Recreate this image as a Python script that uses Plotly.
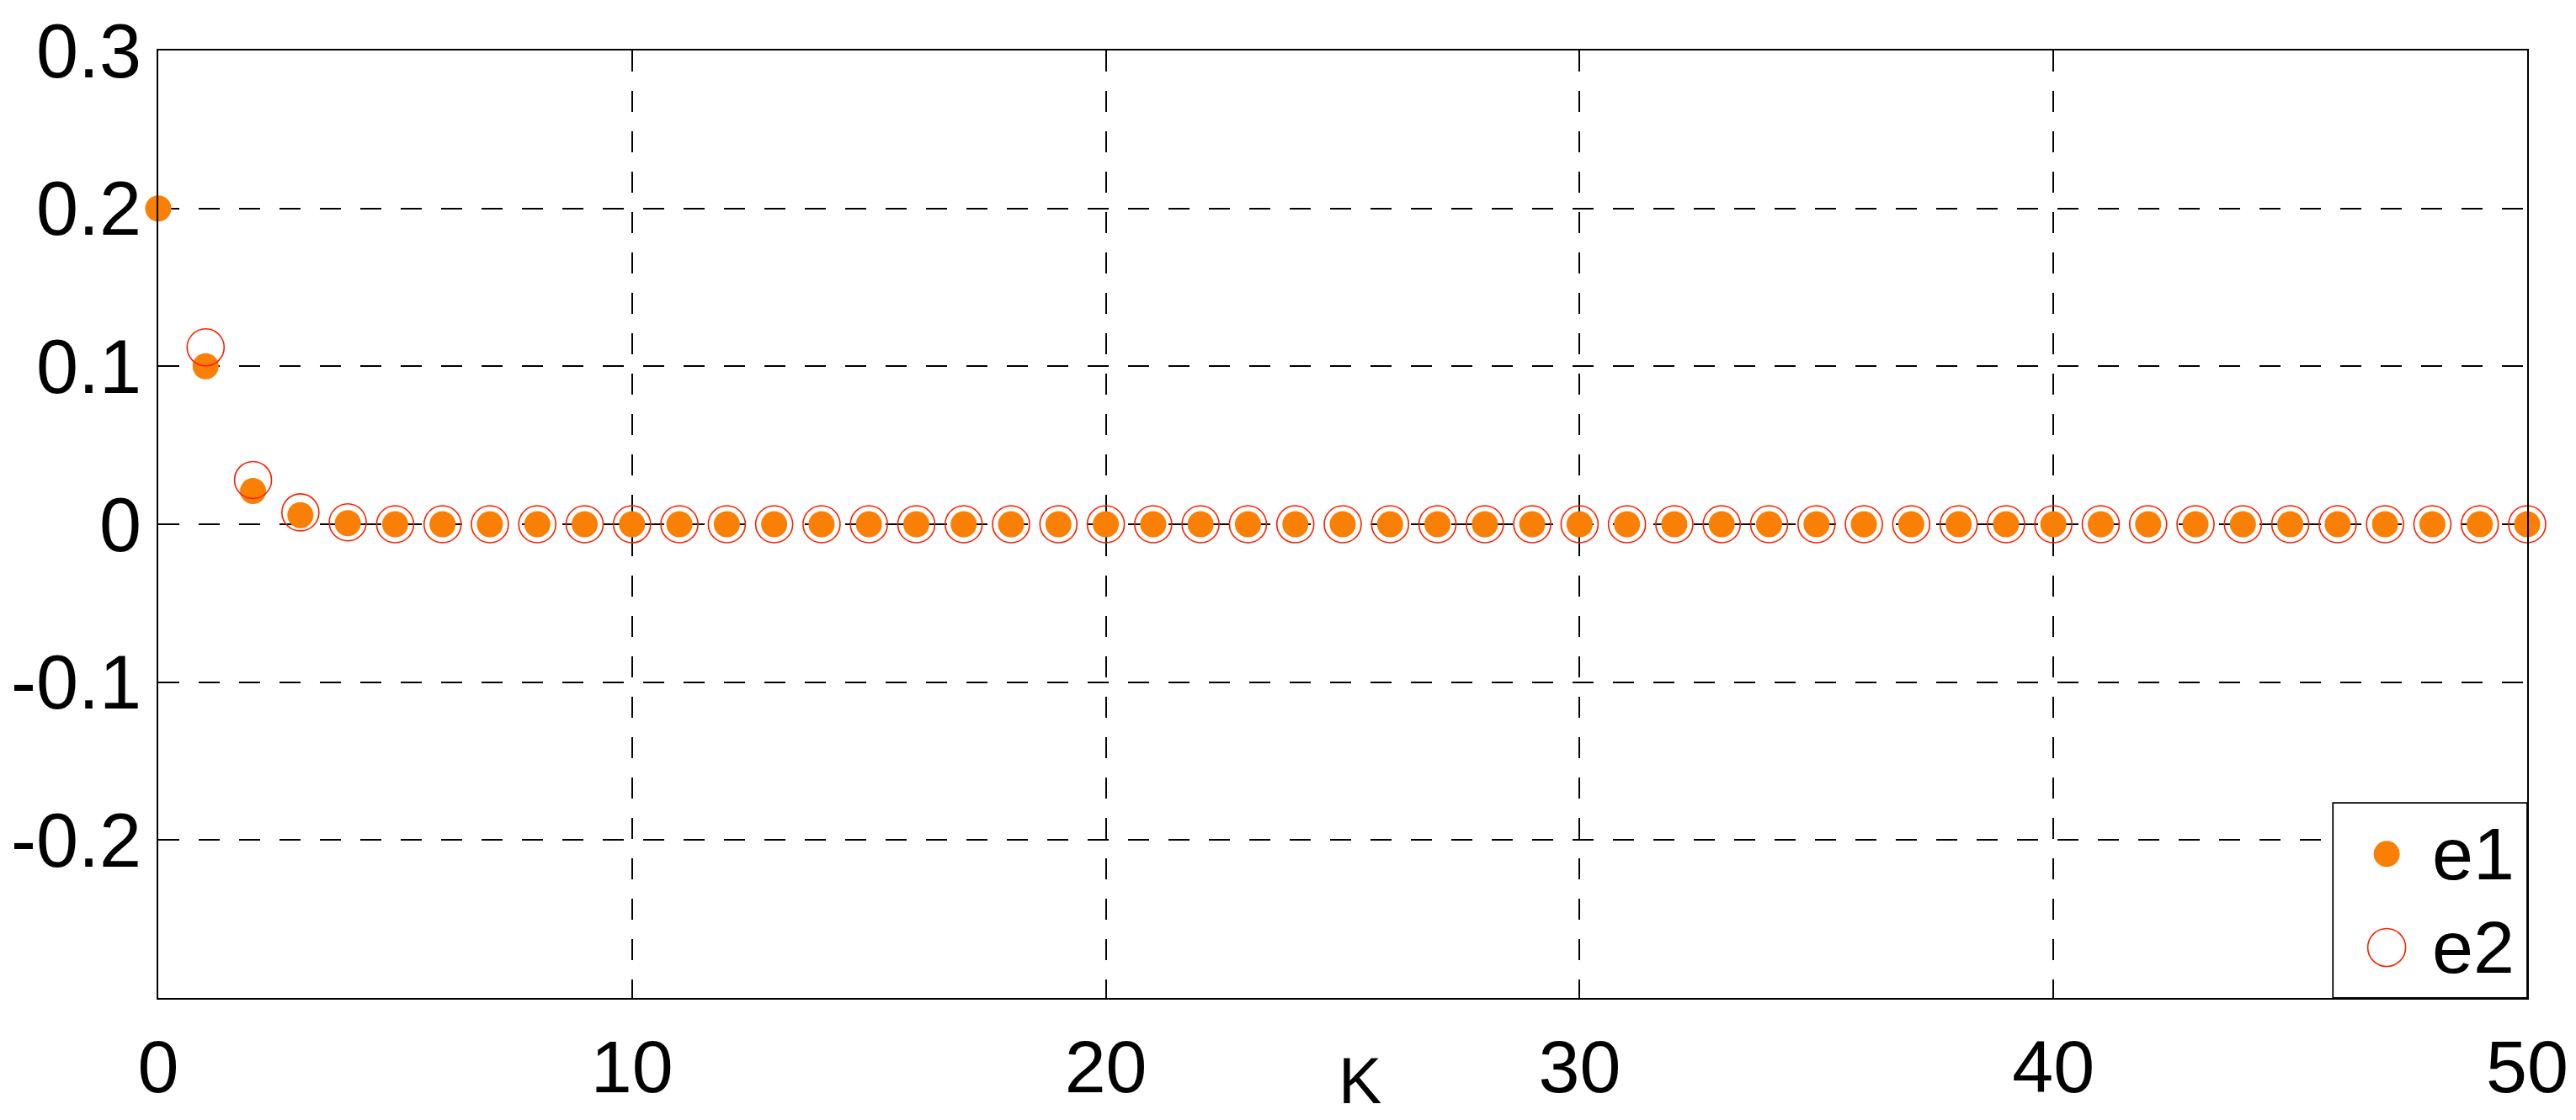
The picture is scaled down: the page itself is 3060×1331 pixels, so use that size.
import plotly.graph_objs as go

# data
k = list(range(51))
e1 = [0.2, 0.1, 0.021, 0.0057, 0.0007,
      0, 0, 0, 0, 0, 0, 0, 0, 0, 0,
      0, 0, 0, 0, 0, 0, 0, 0, 0, 0,
      0, 0, 0, 0, 0, 0, 0, 0, 0, 0,
      0, 0, 0, 0, 0, 0, 0, 0, 0, 0,
      0, 0, 0, 0, 0, 0]
e2 = [None, 0.112, 0.028, 0.0075, 0.0012,
      0, 0, 0, 0, 0, 0, 0, 0, 0, 0,
      0, 0, 0, 0, 0, 0, 0, 0, 0, 0,
      0, 0, 0, 0, 0, 0, 0, 0, 0, 0,
      0, 0, 0, 0, 0, 0, 0, 0, 0, 0,
      0, 0, 0, 0, 0, 0]
series_names = ["e1", "e2"]
x_ticks = [0, 10, 20, 30, 40, 50]
y_ticks = [-0.2, -0.1, 0, 0.1, 0.2, 0.3]
y_tick_text = ["-0.2", "-0.1", "0", "0.1", "0.2", "0.3"]

ORANGE = "#F97F05"
RED = "#FF2000"
FONT = "Liberation Sans, Arial, sans-serif"

fig = go.Figure()
fig.add_trace(go.Scatter(
    x=k, y=e1, name=series_names[0], mode="markers", cliponaxis=False,
    marker=dict(size=31, color=ORANGE, line=dict(width=0)),
))
fig.add_trace(go.Scatter(
    x=k, y=e2, name=series_names[1], mode="markers", cliponaxis=False,
    marker=dict(size=44, color="rgba(0,0,0,0)", line=dict(width=1.6, color=RED)),
))

axis_style = dict(
    showline=True, linecolor="black", linewidth=2, mirror=True,
    showgrid=True, gridcolor="black", gridwidth=1.5, griddash="25px,23px",
    zeroline=False, ticks="", automargin=False,
)
fig.update_xaxes(range=[0, 50], tickvals=x_ticks, ticklabelstandoff=4,
                 tickfont=dict(family=FONT, size=88, color="black"), **axis_style)
fig.update_yaxes(range=[-0.3, 0.3], tickvals=y_ticks, ticktext=y_tick_text,
                 ticklabelstandoff=0, tickfont=dict(family=FONT, size=90, color="black"),
                 **axis_style)

# hand-drawn legend box in the lower right corner
fig.add_shape(type="rect", xref="paper", yref="paper", x0=0.918, x1=1, y0=0, y1=0.206,
              fillcolor="white", line=dict(color="black", width=1.8), layer="above")
fig.add_shape(type="circle", xref="paper", yref="paper", xsizemode="pixel", ysizemode="pixel",
              xanchor=0.9407, yanchor=0.152, x0=-15.5, x1=15.5, y0=-15.5, y1=15.5,
              fillcolor=ORANGE, line=dict(width=0), layer="above")
fig.add_shape(type="circle", xref="paper", yref="paper", xsizemode="pixel", ysizemode="pixel",
              xanchor=0.9407, yanchor=0.0533, x0=-22.5, x1=22.5, y0=-22.5, y1=22.5,
              fillcolor="rgba(0,0,0,0)", line=dict(width=1.6, color=RED), layer="above")
for name, ypos in zip(series_names, [0.152, 0.0533]):
    fig.add_annotation(text=name, xref="paper", yref="paper", x=0.9592, y=ypos,
                       xanchor="left", yanchor="middle", showarrow=False,
                       font=dict(family=FONT, size=88, color="black"))

fig.add_annotation(text="K", xref="paper", yref="paper", x=0.5073, y=-0.0866,
                   xanchor="center", yanchor="middle", showarrow=False,
                   font=dict(family=FONT, size=77, color="black"))

# page body adds an 8px offset, margins compensate for it
fig.update_layout(
    width=3060, height=1331,
    margin=dict(l=180, r=66, t=52, b=153),
    paper_bgcolor="white", plot_bgcolor="white",
    showlegend=False,
    font=dict(family=FONT, color="black"),
)

fig.write_html("out.html")
